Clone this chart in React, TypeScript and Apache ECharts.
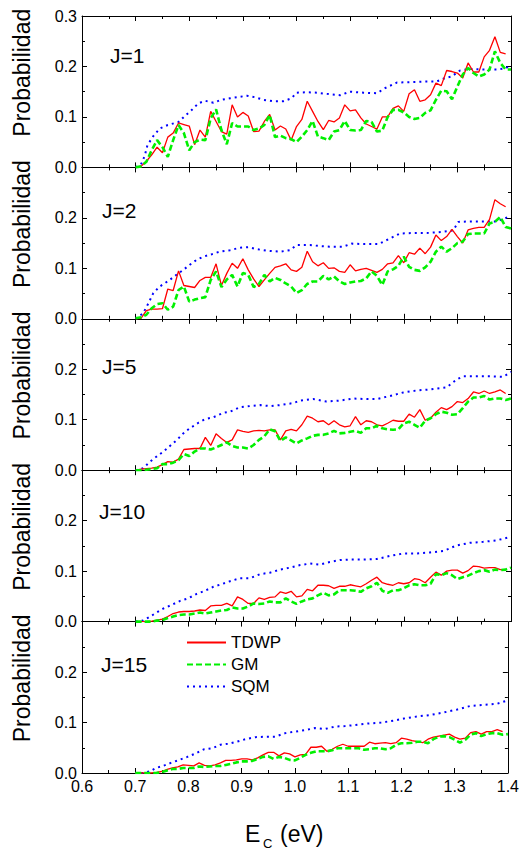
import React, { useEffect, useRef } from "react";
import * as echarts from "echarts";

// Energy grid (eV) for TDWP / GM series
const E = [0.70,0.71,0.72,0.73,0.74,0.75,0.76,0.77,0.78,0.79,0.80,0.81,0.82,0.83,0.84,0.85,0.86,0.87,0.88,0.89,0.90,0.91,0.92,0.93,0.94,0.95,0.96,0.97,0.98,0.99,1.00,1.01,1.02,1.03,1.04,1.05,1.06,1.07,1.08,1.09,1.10,1.11,1.12,1.13,1.14,1.15,1.16,1.17,1.18,1.19,1.20,1.21,1.22,1.23,1.24,1.25,1.26,1.27,1.28,1.29,1.30,1.31,1.32,1.33,1.34,1.35,1.36,1.37,1.38,1.39,1.40];

// J=1
const tdwp1 = [0.000,0.002,0.012,0.025,0.040,0.029,0.060,0.068,0.088,0.085,0.082,0.045,0.074,0.060,0.111,0.091,0.071,0.066,0.124,0.100,0.109,0.102,0.071,0.072,0.091,0.105,0.074,0.082,0.076,0.054,0.081,0.095,0.131,0.111,0.091,0.075,0.093,0.090,0.098,0.124,0.112,0.114,0.098,0.086,0.081,0.076,0.100,0.100,0.117,0.122,0.111,0.146,0.154,0.131,0.134,0.144,0.167,0.162,0.192,0.190,0.187,0.177,0.207,0.189,0.189,0.219,0.232,0.259,0.228,0.225];
const gm1 = [0.000,0.002,0.011,0.034,0.054,0.040,0.021,0.054,0.084,0.068,0.034,0.050,0.055,0.054,0.097,0.115,0.074,0.046,0.088,0.081,0.081,0.081,0.074,0.077,0.084,0.104,0.060,0.063,0.058,0.056,0.050,0.061,0.074,0.092,0.061,0.058,0.054,0.071,0.074,0.092,0.074,0.073,0.074,0.092,0.090,0.071,0.073,0.100,0.114,0.114,0.109,0.100,0.096,0.098,0.108,0.113,0.134,0.152,0.151,0.135,0.160,0.184,0.197,0.187,0.180,0.184,0.194,0.230,0.207,0.194,0.194];
const sqmE1 = [0.700,0.711,0.717,0.722,0.733,0.745,0.760,0.780,0.792,0.805,0.817,0.830,0.845,0.860,0.876,0.895,0.907,0.923,0.938,0.957,0.975,0.991,1.000,1.019,1.038,1.062,1.081,1.100,1.125,1.150,1.165,1.187,1.212,1.237,1.261,1.277,1.289,1.305,1.324,1.348,1.373,1.390,1.400];
const sqm1 = [0.000,0.008,0.023,0.044,0.062,0.077,0.084,0.090,0.102,0.114,0.127,0.132,0.128,0.134,0.137,0.140,0.142,0.139,0.134,0.131,0.131,0.137,0.148,0.149,0.148,0.145,0.143,0.150,0.148,0.147,0.157,0.168,0.169,0.170,0.170,0.177,0.180,0.192,0.195,0.194,0.194,0.196,0.204];

// J=2
const tdwp2 = [0.000,0.001,0.016,0.019,0.019,0.020,0.059,0.056,0.095,0.066,0.064,0.062,0.076,0.082,0.082,0.109,0.066,0.090,0.110,0.100,0.119,0.097,0.079,0.064,0.077,0.090,0.102,0.105,0.109,0.097,0.094,0.102,0.134,0.113,0.105,0.111,0.100,0.101,0.094,0.092,0.107,0.095,0.098,0.100,0.096,0.092,0.098,0.109,0.111,0.125,0.111,0.131,0.128,0.140,0.129,0.142,0.166,0.155,0.163,0.177,0.163,0.150,0.176,0.179,0.181,0.181,0.197,0.236,0.228,0.222];
const gm2 = [0.001,0.003,0.008,0.021,0.029,0.031,0.018,0.024,0.057,0.064,0.034,0.038,0.041,0.043,0.077,0.094,0.063,0.078,0.087,0.064,0.091,0.087,0.063,0.069,0.087,0.074,0.081,0.077,0.070,0.064,0.051,0.057,0.069,0.074,0.074,0.085,0.078,0.084,0.074,0.069,0.072,0.074,0.075,0.080,0.094,0.085,0.067,0.094,0.098,0.105,0.123,0.103,0.097,0.095,0.102,0.113,0.133,0.143,0.133,0.140,0.150,0.153,0.168,0.169,0.169,0.169,0.189,0.192,0.202,0.182,0.179];
const sqmE2 = [0.700,0.714,0.724,0.733,0.745,0.761,0.776,0.789,0.801,0.814,0.826,0.842,0.857,0.876,0.895,0.910,0.926,0.944,0.969,0.988,1.000,1.025,1.047,1.062,1.087,1.103,1.125,1.153,1.174,1.193,1.218,1.243,1.271,1.292,1.302,1.324,1.348,1.373,1.398];
const sqm2 = [0.000,0.011,0.031,0.051,0.064,0.075,0.087,0.097,0.107,0.117,0.123,0.128,0.133,0.136,0.141,0.142,0.138,0.135,0.133,0.136,0.146,0.146,0.144,0.143,0.143,0.149,0.148,0.148,0.159,0.169,0.170,0.170,0.172,0.175,0.192,0.193,0.193,0.193,0.203];

// J=5
const tdwp5 = [0.000,0.002,0.003,0.004,0.006,0.011,0.017,0.016,0.022,0.041,0.042,0.043,0.043,0.065,0.049,0.072,0.063,0.055,0.060,0.080,0.077,0.075,0.078,0.079,0.078,0.080,0.080,0.060,0.078,0.081,0.078,0.090,0.107,0.103,0.096,0.098,0.090,0.098,0.090,0.086,0.088,0.106,0.090,0.098,0.096,0.090,0.088,0.093,0.099,0.097,0.097,0.111,0.105,0.120,0.099,0.103,0.115,0.124,0.120,0.126,0.136,0.134,0.142,0.155,0.152,0.157,0.152,0.155,0.159,0.152];
const gm5 = [0.000,0.000,0.001,0.002,0.004,0.012,0.012,0.015,0.020,0.032,0.028,0.037,0.043,0.043,0.041,0.045,0.050,0.055,0.048,0.045,0.045,0.043,0.050,0.060,0.067,0.081,0.077,0.058,0.065,0.059,0.053,0.059,0.063,0.068,0.070,0.070,0.073,0.078,0.073,0.074,0.076,0.078,0.074,0.083,0.083,0.088,0.083,0.081,0.080,0.081,0.093,0.096,0.090,0.084,0.098,0.103,0.111,0.116,0.114,0.110,0.111,0.123,0.136,0.144,0.144,0.147,0.140,0.142,0.142,0.139,0.142];
const sqmE5 = [0.700,0.714,0.727,0.739,0.752,0.764,0.777,0.789,0.801,0.817,0.829,0.845,0.864,0.876,0.895,0.913,0.932,0.951,0.969,0.994,1.007,1.031,1.056,1.081,1.106,1.131,1.150,1.174,1.199,1.224,1.249,1.280,1.299,1.311,1.336,1.361,1.386,1.400];
const sqm5 = [0.000,0.004,0.017,0.027,0.037,0.048,0.060,0.073,0.083,0.094,0.101,0.105,0.114,0.116,0.125,0.127,0.129,0.127,0.129,0.133,0.138,0.141,0.136,0.138,0.142,0.141,0.141,0.147,0.154,0.158,0.160,0.164,0.180,0.186,0.186,0.186,0.185,0.195];

// J=10
const tdwp10 = [0.000,0.000,0.000,0.001,0.003,0.005,0.010,0.016,0.019,0.020,0.020,0.021,0.023,0.022,0.031,0.032,0.032,0.036,0.031,0.049,0.044,0.036,0.036,0.047,0.044,0.048,0.049,0.059,0.056,0.060,0.049,0.051,0.064,0.061,0.072,0.072,0.071,0.066,0.070,0.070,0.073,0.071,0.069,0.075,0.082,0.088,0.077,0.074,0.072,0.077,0.075,0.077,0.085,0.083,0.077,0.088,0.098,0.092,0.100,0.102,0.102,0.096,0.101,0.110,0.109,0.106,0.107,0.107,0.103,0.103];
const gm10 = [0.000,0.000,0.000,0.000,0.002,0.003,0.007,0.010,0.013,0.014,0.014,0.016,0.018,0.016,0.018,0.020,0.022,0.023,0.028,0.026,0.026,0.030,0.036,0.035,0.036,0.040,0.038,0.038,0.046,0.040,0.035,0.040,0.044,0.046,0.052,0.057,0.052,0.054,0.062,0.062,0.062,0.061,0.059,0.066,0.070,0.077,0.061,0.057,0.062,0.062,0.066,0.072,0.074,0.072,0.072,0.075,0.094,0.092,0.096,0.092,0.084,0.088,0.091,0.096,0.100,0.102,0.099,0.103,0.102,0.103,0.107];
const sqmE10 = [0.700,0.714,0.727,0.739,0.752,0.767,0.783,0.798,0.814,0.829,0.845,0.860,0.876,0.895,0.913,0.932,0.951,0.969,0.988,1.007,1.025,1.044,1.062,1.081,1.100,1.125,1.150,1.174,1.199,1.224,1.249,1.274,1.299,1.323,1.348,1.373,1.400];
const sqm10 = [0.000,0.002,0.010,0.018,0.026,0.033,0.041,0.046,0.055,0.061,0.069,0.074,0.080,0.086,0.086,0.094,0.097,0.103,0.107,0.112,0.115,0.113,0.118,0.122,0.123,0.123,0.124,0.130,0.135,0.135,0.137,0.140,0.151,0.156,0.158,0.161,0.168];

// J=15
const tdwp15 = [0.000,0.000,0.000,0.000,0.001,0.003,0.007,0.010,0.012,0.016,0.015,0.014,0.020,0.015,0.014,0.016,0.020,0.025,0.025,0.026,0.028,0.028,0.026,0.030,0.036,0.041,0.041,0.034,0.040,0.038,0.032,0.036,0.037,0.051,0.051,0.053,0.043,0.047,0.053,0.057,0.053,0.053,0.053,0.053,0.061,0.058,0.059,0.060,0.058,0.060,0.069,0.067,0.064,0.062,0.060,0.067,0.071,0.073,0.075,0.077,0.071,0.067,0.069,0.080,0.082,0.077,0.082,0.082,0.086,0.082];
const gm15 = [0.000,0.000,0.000,0.000,0.000,0.002,0.005,0.008,0.008,0.010,0.010,0.010,0.013,0.012,0.013,0.014,0.014,0.016,0.018,0.021,0.023,0.023,0.024,0.028,0.032,0.033,0.028,0.032,0.030,0.026,0.025,0.030,0.036,0.040,0.043,0.043,0.043,0.045,0.049,0.049,0.049,0.049,0.049,0.046,0.047,0.049,0.049,0.047,0.049,0.056,0.059,0.059,0.060,0.062,0.062,0.059,0.067,0.072,0.073,0.071,0.066,0.060,0.066,0.076,0.079,0.073,0.077,0.079,0.079,0.076,0.077];
const sqmE15 = [0.700,0.714,0.727,0.739,0.752,0.767,0.783,0.798,0.814,0.829,0.845,0.860,0.876,0.891,0.907,0.926,0.944,0.963,0.982,1.000,1.019,1.038,1.056,1.075,1.094,1.112,1.137,1.162,1.187,1.205,1.230,1.255,1.280,1.305,1.330,1.355,1.379,1.400];
const sqm15 = [0.000,0.000,0.003,0.010,0.014,0.020,0.026,0.032,0.039,0.047,0.049,0.056,0.058,0.062,0.067,0.071,0.072,0.072,0.079,0.082,0.085,0.089,0.087,0.092,0.093,0.095,0.098,0.100,0.104,0.108,0.112,0.115,0.120,0.126,0.133,0.135,0.137,0.144];

const J_LABELS = ["J=1", "J=2", "J=5", "J=10", "J=15"];
const SERIES_NAMES = ["TDWP", "GM", "SQM"];
const X_TICKS = ["0.6", "0.7", "0.8", "0.9", "1.0", "1.1", "1.2", "1.3", "1.4"];

const TDWP = [tdwp1, tdwp2, tdwp5, tdwp10, tdwp15];
const GM = [gm1, gm2, gm5, gm10, gm15];
const SQM_E = [sqmE1, sqmE2, sqmE5, sqmE10, sqmE15];
const SQM = [sqm1, sqm2, sqm5, sqm10, sqm15];

const FONT = "Liberation Sans, Arial, sans-serif";
const GRID_TOP = [16, 167.4, 318.8, 470.2, 621.6];
const GRID_H = 151.4;
const J_POS = [[110, 55], [102, 210], [102, 366], [99, 511], [101, 664]];

function zip(xs: number[], ys: number[]) {
  const out: number[][] = [];
  for (let i = 0; i < ys.length; i++) out.push([xs[i], ys[i]]);
  return out;
}

export default function App() {
  const ref = useRef<HTMLDivElement>(null);
  useEffect(() => {
    if (!ref.current) return;
    const chart = echarts.init(ref.current, undefined, { renderer: "svg" });
    const grids: any[] = [];
    const xAxes: any[] = [];
    const yAxes: any[] = [];
    const series: any[] = [];
    const graphic: any[] = [];
    const axisLine = { show: true, onZero: false, lineStyle: { color: "#000", width: 1 } };
    const axisTick = { show: true, inside: true, length: 5, lineStyle: { color: "#000", width: 1 } };
    const minorTick = { show: true, splitNumber: 2, length: 3, lineStyle: { color: "#000", width: 1 } };
    const colors = ["#ff0000", "#00f000", "#0000ff"];
    for (let i = 0; i < 5; i++) {
      grids.push({ left: 82, right: 11, top: GRID_TOP[i], height: GRID_H, containLabel: false });
      const last = i === 4;
      const xBase = {
        type: "value", gridIndex: i, min: 0.6, max: 1.4, interval: 0.1,
        axisLine, axisTick, minorTick, splitLine: { show: false }, minorSplitLine: { show: false },
      };
      xAxes.push({
        ...xBase, position: "bottom",
        axisLabel: {
          show: last, fontSize: 16, color: "#000", fontFamily: FONT, margin: 5,
          showMinLabel: true, showMaxLabel: true,
          formatter: (v: number) => X_TICKS[Math.round((v - 0.6) * 10)] ?? "",
        },
      });
      xAxes.push({ ...xBase, position: "top", axisLabel: { show: false } });
      const yBase = {
        type: "value", gridIndex: i, min: 0, max: 0.3, interval: 0.1,
        axisLine, axisTick, minorTick, splitLine: { show: false }, minorSplitLine: { show: false },
      };
      yAxes.push({
        ...yBase, position: "left",
        axisLabel: {
          show: true, fontSize: 16, color: "#000", fontFamily: FONT, margin: 5,
          formatter: (v: number) => (i > 0 && Math.abs(v - 0.3) < 1e-6 ? "" : v.toFixed(1)),
        },
      });
      yAxes.push({ ...yBase, position: "right", axisLabel: { show: false } });

      series.push({
        name: SERIES_NAMES[0], type: "line", xAxisIndex: 2 * i, yAxisIndex: 2 * i,
        data: zip(E, TDWP[i]), symbol: "none", z: 3,
        lineStyle: { color: colors[0], width: 1.3, type: "solid" }, itemStyle: { color: colors[0], opacity: 0 },
      });
      series.push({
        name: SERIES_NAMES[1], type: "line", xAxisIndex: 2 * i, yAxisIndex: 2 * i,
        data: zip(E, GM[i]), symbol: "none", z: 4,
        lineStyle: { color: colors[1], width: 2.6, type: [6, 3] }, itemStyle: { color: colors[1], opacity: 0 },
      });
      series.push({
        name: SERIES_NAMES[2], type: "line", xAxisIndex: 2 * i, yAxisIndex: 2 * i,
        data: zip(SQM_E[i], SQM[i]), symbol: "none", z: 2,
        lineStyle: { color: colors[2], width: 2, type: [2, 4] }, itemStyle: { color: colors[2], opacity: 0 },
      });

      graphic.push({
        type: "text", x: 22, y: GRID_TOP[i] + GRID_H / 2 - 19, rotation: Math.PI / 2,
        style: { text: "Probabilidad", fontSize: 23, fontFamily: FONT, fill: "#000", textAlign: "center", textVerticalAlign: "middle" },
      });
      graphic.push({
        type: "text", x: J_POS[i][0], y: J_POS[i][1],
        style: { text: J_LABELS[i], fontSize: 21, fontFamily: FONT, fill: "#000", textAlign: "left", textVerticalAlign: "middle" },
      });
    }
    graphic.push({ type: "text", x: 245, y: 834, style: { text: "E", fontSize: 23, fontFamily: FONT, fill: "#000", textAlign: "left", textVerticalAlign: "middle" } });
    graphic.push({ type: "text", x: 263, y: 843, style: { text: "C", fontSize: 13, fontFamily: FONT, fill: "#000", textAlign: "left", textVerticalAlign: "middle" } });
    graphic.push({ type: "text", x: 280, y: 834, style: { text: "(eV)", fontSize: 23, fontFamily: FONT, fill: "#000", textAlign: "left", textVerticalAlign: "middle" } });

    chart.setOption({
      animation: false,
      backgroundColor: "#fff",
      grid: grids,
      xAxis: xAxes,
      yAxis: yAxes,
      series,
      graphic,
      legend: {
        data: SERIES_NAMES.map((n) => ({ name: n, itemStyle: { opacity: 0 } })),
        orient: "vertical", left: 186, top: 634, padding: 0,
        itemWidth: 39, itemHeight: 14, itemGap: 5,
        itemStyle: { opacity: 0 },
        textStyle: { fontSize: 17, color: "#000", fontFamily: FONT },
      },
    });
    return () => chart.dispose();
  }, []);
  return <div ref={ref} style={{ position: "fixed", left: 0, top: 0, width: 522, height: 851 }} />;
}
